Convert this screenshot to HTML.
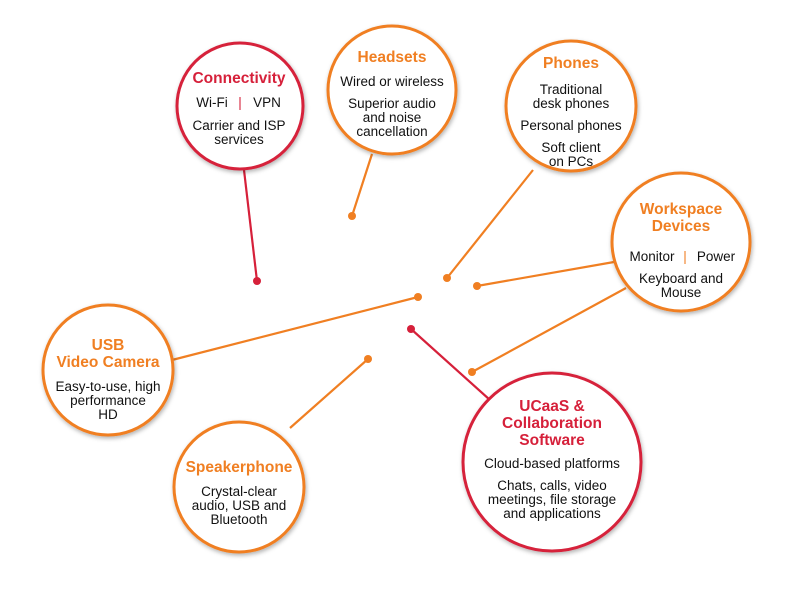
<!DOCTYPE html>
<html><head><meta charset="utf-8"><style>
body{margin:0;background:#fff}
svg{display:block}
text{font-family:"Liberation Sans",Arial,sans-serif;text-anchor:middle;fill:#111;font-size:13.5px}
.t{font-weight:bold;font-size:15.5px}
.o{fill:#f07f22}.r{fill:#d6203a}
</style></head><body>
<svg width="795" height="593" viewBox="0 0 795 593">
<defs><filter id="s" x="-20%" y="-20%" width="140%" height="140%"><feDropShadow dx="1" dy="2" stdDeviation="2" flood-opacity="0.3"/></filter></defs>
<g stroke-width="2.2">
<line x1="244" y1="170" x2="257" y2="281" stroke="#d6203a"/>
<line x1="372" y1="154" x2="352" y2="216" stroke="#f07f22"/>
<line x1="533" y1="170" x2="447" y2="278" stroke="#f07f22"/>
<line x1="614" y1="262" x2="477" y2="286" stroke="#f07f22"/>
<line x1="626" y1="288" x2="472" y2="372" stroke="#f07f22"/>
<line x1="172" y1="360" x2="418" y2="297" stroke="#f07f22"/>
<line x1="290" y1="428" x2="368" y2="359" stroke="#f07f22"/>
<line x1="490" y1="400" x2="411" y2="329" stroke="#d6203a"/>
</g>
<g>
<circle cx="257" cy="281" r="4" class="r"/><circle cx="352" cy="216" r="4" class="o"/>
<circle cx="447" cy="278" r="4" class="o"/><circle cx="477" cy="286" r="4" class="o"/>
<circle cx="472" cy="372" r="4" class="o"/><circle cx="418" cy="297" r="4" class="o"/>
<circle cx="368" cy="359" r="4" class="o"/><circle cx="411" cy="329" r="4" class="r"/>
</g>
<g fill="#fff" stroke-width="3" filter="url(#s)">
<circle cx="240" cy="106" r="63" stroke="#d6203a"/>
<circle cx="392" cy="90" r="64" stroke="#f07f22"/>
<circle cx="571" cy="106" r="65" stroke="#f07f22"/>
<circle cx="681" cy="242" r="69" stroke="#f07f22"/>
<circle cx="108" cy="370" r="65" stroke="#f07f22"/>
<circle cx="239" cy="487" r="65" stroke="#f07f22"/>
<circle cx="552" cy="462" r="89" stroke="#d6203a"/>
</g>
<text x="239" y="83" class="t r">Connectivity</text>
<text x="212" y="107">Wi-Fi</text><text x="240" y="107" class="r">|</text><text x="267" y="107">VPN</text>
<text x="239" y="130">Carrier and ISP</text><text x="239" y="144">services</text>
<text x="392" y="62" class="t o">Headsets</text>
<text x="392" y="86">Wired or wireless</text>
<text x="392" y="108">Superior audio</text><text x="392" y="122">and noise</text><text x="392" y="136">cancellation</text>
<text x="571" y="68" class="t o">Phones</text>
<text x="571" y="94">Traditional</text><text x="571" y="108">desk phones</text>
<text x="571" y="130">Personal phones</text>
<text x="571" y="152">Soft client</text><text x="571" y="166">on PCs</text>
<text x="681" y="214" class="t o">Workspace</text><text x="681" y="231" class="t o">Devices</text>
<text x="652" y="261">Monitor</text><text x="685" y="261" class="o">|</text><text x="716" y="261">Power</text>
<text x="681" y="283">Keyboard and</text><text x="681" y="297">Mouse</text>
<text x="108" y="350" class="t o">USB</text><text x="108" y="367" class="t o">Video Camera</text>
<text x="108" y="391">Easy-to-use, high</text><text x="108" y="405">performance</text><text x="108" y="419">HD</text>
<text x="239" y="472" class="t o">Speakerphone</text>
<text x="239" y="496">Crystal-clear</text><text x="239" y="510">audio, USB and</text><text x="239" y="524">Bluetooth</text>
<text x="552" y="411" class="t r">UCaaS &amp;</text><text x="552" y="428" class="t r">Collaboration</text><text x="552" y="445" class="t r">Software</text>
<text x="552" y="468">Cloud-based platforms</text>
<text x="552" y="490">Chats, calls, video</text><text x="552" y="504">meetings, file storage</text><text x="552" y="518">and applications</text>
</svg>
</body></html>
